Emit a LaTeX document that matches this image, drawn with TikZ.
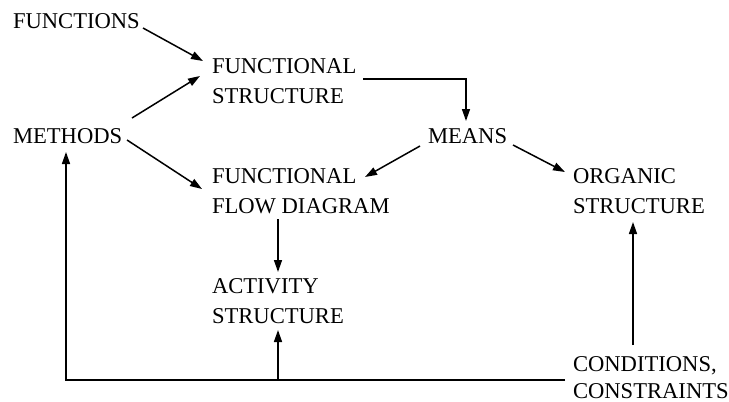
\documentclass[tikz,border=0pt]{standalone}
\usepackage{fontspec}
\setmainfont{Liberation Serif}
\usetikzlibrary{arrows.meta,calc}
\newcommand{\twolines}[2]{\begin{tabular}[t]{@{}l@{}}#1\\#2\end{tabular}}
\begin{document}
\begin{tikzpicture}[x=1pt,y=-1pt,
  label/.style={inner sep=0pt,outer sep=0pt,anchor=base west,
    font=\fontsize{22.6}{30}\selectfont},
  tightlabel/.style={label,font=\fontsize{22.6}{27}\selectfont},
  link/.style={line width=1.5pt,-{Triangle[length=12pt,width=8pt]}},
  wire/.style={line width=1.5pt}]
\useasboundingbox (0,0) rectangle (729,402);

% labels, placed at the baseline of their first line
\node[label] (fn) at (13,28)  {FUNCTIONS};
\node[label] (fs) at (212,73) {\twolines{FUNCTIONAL}{STRUCTURE}};
\node[label] (me) at (13,143) {METHODS};
\node[label] (mn) at (428,143) {MEANS};
\node[label] (ff) at (212,183) {\twolines{FUNCTIONAL}{FLOW DIAGRAM}};
\node[label] (og) at (573,183) {\twolines{ORGANIC}{STRUCTURE}};
\node[label] (ac) at (212,293) {\twolines{ACTIVITY}{STRUCTURE}};
\node[tightlabel] (cc) at (573,371) {\twolines{CONDITIONS,}{CONSTRAINTS}};

% inputs to the functional structure and the flow diagram
\draw[link] ([shift={(130,0)}]fn.base west) -- ([shift={(-9,-12)}]fs.base west);
\draw[link] ([shift={(119,-25)}]me.base west) -- ([shift={(-12,3)}]fs.base west);
\draw[link] ([shift={(114,-3)}]me.base west) -- ([shift={(-10,6)}]ff.base west);

% functional structure leads to the means
\draw[link] ([shift={(151,6)}]fs.base west) -| ([shift={(38,-22)}]mn.base west);

% the means feed both structures
\draw[link] ([shift={(-8,3)}]mn.base west) -- ([shift={(153,-6)}]ff.base west);
\draw[link] ([shift={(85,2)}]mn.base west) -- ([shift={(-8,-11)}]og.base west);

% flow diagram to activity structure
\draw[link] ([shift={(66,36)}]ff.base west) -- ([shift={(66,-21)}]ac.base west);

% conditions and constraints act back on the methods and the activity structure
\coordinate (fb) at ([shift={(-8,9)}]cc.base west);
\draw[link] (fb) -| ([shift={(53,9)}]me.base west);
\coordinate (j) at ([shift={(66,0)}]ac.base west |- fb);
\draw[link] (j) -- ([shift={(66,37)}]ac.base west);
\draw[link] ([shift={(60,-26)}]cc.base west) -- ([shift={(60,39)}]og.base west);
\end{tikzpicture}
\end{document}
